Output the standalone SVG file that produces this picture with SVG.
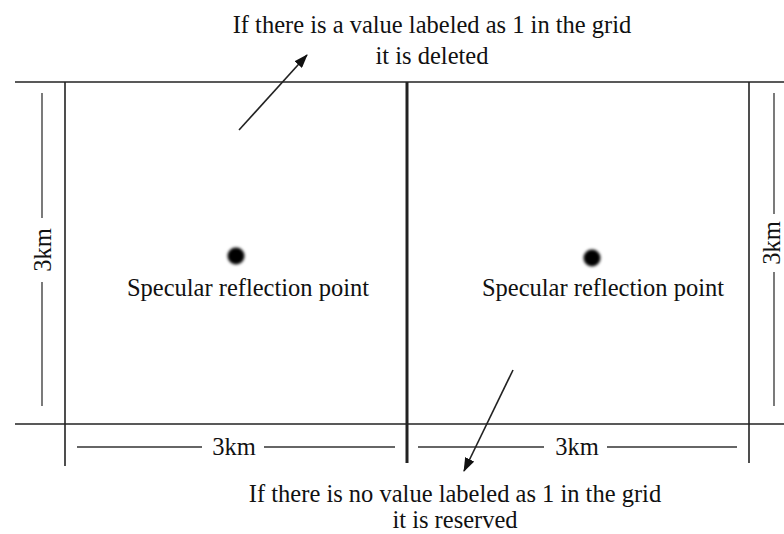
<svg xmlns="http://www.w3.org/2000/svg" width="784" height="534" viewBox="0 0 784 534">
<style>
.ln{stroke:#222;stroke-width:1.6;fill:none}
.dm{stroke:#333;stroke-width:1.3;fill:none}
.t{font-family:"Liberation Serif",serif;font-size:24.5px;fill:#111}
</style>
<defs>
<marker id="ah" viewBox="0 0 14 10" refX="13" refY="5" markerWidth="14" markerHeight="10" markerUnits="userSpaceOnUse" orient="auto"><path d="M0,0 L14,5 L0,10 Z" fill="#111"/></marker>
<filter id="bl" x="-50%" y="-50%" width="200%" height="200%"><feGaussianBlur stdDeviation="1.6"/></filter>
</defs>
<rect width="784" height="534" fill="#fff"/>
<g id="grid">
<line class="ln" x1="15" y1="82" x2="784" y2="82"/>
<line class="ln" x1="15" y1="424" x2="784" y2="424"/>
<line class="ln" x1="65" y1="82" x2="65" y2="466"/>
<line class="ln" x1="407" y1="82" x2="407" y2="463" style="stroke-width:3"/>
<line class="ln" x1="749" y1="82" x2="749" y2="463"/>
</g>
<g id="dims">
<line class="dm" x1="42" y1="93" x2="42" y2="218"/>
<line class="dm" x1="42" y1="282" x2="42" y2="406"/>
<text class="t" transform="translate(51,250) rotate(-90)" text-anchor="middle">3km</text>
<line class="dm" x1="774" y1="93" x2="774" y2="214"/>
<line class="dm" x1="774" y1="272" x2="774" y2="406"/>
<text class="t" transform="translate(780,243) rotate(-90)" text-anchor="middle">3km</text>
<line class="dm" x1="77" y1="447" x2="202" y2="447"/>
<text class="t" x="234" y="455" text-anchor="middle">3km</text>
<line class="dm" x1="264" y1="447" x2="395" y2="447"/>
<line class="dm" x1="418" y1="447" x2="544" y2="447"/>
<text class="t" x="577" y="455" text-anchor="middle">3km</text>
<line class="dm" x1="607" y1="447" x2="737" y2="447"/>
</g>
<g id="point-left">
<circle cx="236" cy="256" r="8.5" fill="#000" filter="url(#bl)"/>
<text class="t" x="248" y="296" text-anchor="middle">Specular reflection point</text>
</g>
<g id="point-right">
<circle cx="592" cy="258" r="8.5" fill="#000" filter="url(#bl)"/>
<text class="t" x="603" y="296" text-anchor="middle">Specular reflection point</text>
</g>
<g id="label-top">
<text class="t" x="432" y="33" text-anchor="middle">If there is a value labeled as 1 in the grid</text>
<text class="t" x="432" y="64" text-anchor="middle">it is deleted</text>
</g>
<g id="label-bottom">
<text class="t" x="455" y="502" text-anchor="middle">If there is no value labeled as 1 in the grid</text>
<text class="t" x="455" y="528" text-anchor="middle">it is reserved</text>
</g>
<g id="connectors">
<line class="ln" x1="239" y1="130" x2="307" y2="55" marker-end="url(#ah)"/>
<line class="ln" x1="513" y1="370" x2="464" y2="471" marker-end="url(#ah)"/>
</g>
</svg>
